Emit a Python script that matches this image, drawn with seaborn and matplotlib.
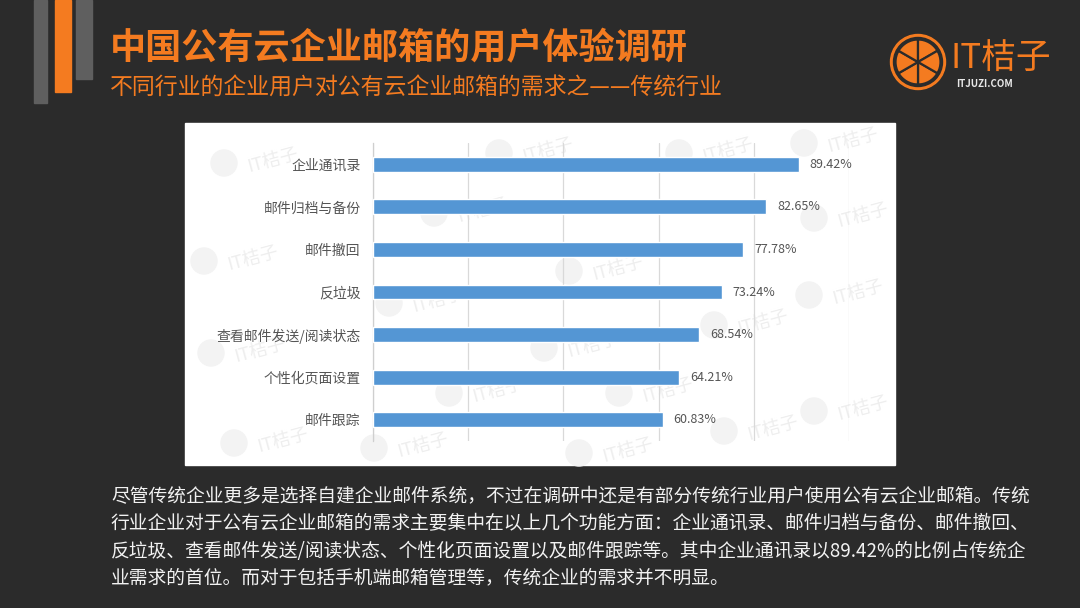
import matplotlib
matplotlib.use("Agg")
import matplotlib.pyplot as plt
import seaborn as sns
import pandas as pd
import numpy as np
from matplotlib.patches import Rectangle, Circle, Wedge

# ---- data ----
categories = ["企业通讯录", "邮件归档与备份", "邮件撤回", "反垃圾",
              "查看邮件发送/阅读状态", "个性化页面设置", "邮件跟踪"]
values = [89.42, 82.65, 77.78, 73.24, 68.54, 64.21, 60.83]
value_labels = ["89.42%", "82.65%", "77.78%", "73.24%", "68.54%", "64.21%", "60.83%"]

title = "中国公有云企业邮箱的用户体验调研"
subtitle = "不同行业的企业用户对公有云企业邮箱的需求之——传统行业"
paragraph = [
    "尽管传统企业更多是选择自建企业邮件系统，不过在调研中还是有部分传统行业用户使用公有云企业邮箱。传统",
    "行业企业对于公有云企业邮箱的需求主要集中在以上几个功能方面：企业通讯录、邮件归档与备份、邮件撤回、",
    "反垃圾、查看邮件发送/阅读状态、个性化页面设置以及邮件跟踪等。其中企业通讯录以89.42%的比例占传统企",
    "业需求的首位。而对于包括手机端邮箱管理等，传统企业的需求并不明显。",
]

sns.set_theme(style="white")
plt.rcParams['font.family'] = ['Noto Sans CJK SC', 'DejaVu Sans']

W, H = 1080, 608
BG = "#2b2b2b"
ORANGE = "#f47b20"
BAR = "#5496d4"

fig = plt.figure(figsize=(W / 100, H / 100), dpi=100)
fig.patch.set_facecolor(BG)

def fx(x):
    return x / W

def fy(y):
    return 1 - y / H

# background overlay axes in pixel coordinates (panel, decorations, logo, watermarks)
lax = fig.add_axes([0, 0, 1, 1], facecolor="none")
lax.set_xlim(0, W)
lax.set_ylim(H, 0)
lax.axis("off")
lax.set_zorder(-1)

# decorative bars top-left
for (x0, x1, y1, c) in [(34, 47, 103, "#5f5f5f"), (55, 71, 92, ORANGE), (76, 92, 79, "#5f5f5f")]:
    lax.add_patch(Rectangle((x0, 0), x1 - x0, y1, color=c, zorder=1))

# white chart panel
panel = Rectangle((185, 123), 895 - 185, 465 - 123, color="white", zorder=0)
lax.add_patch(panel)

# faint watermarks inside panel
wm = [(245, 160), (455, 210), (225, 258), (590, 268), (410, 300), (232, 350),
      (565, 345), (735, 322), (830, 292), (395, 445), (600, 450), (745, 428),
      (835, 408), (255, 440), (700, 150), (825, 140), (835, 215), (640, 390),
      (520, 150), (470, 390)]
for (wx, wy) in wm:
    lax.add_patch(Circle((wx - 21, wy + 3), 13, color="#f3f3f3", zorder=0.5))
    lax.text(wx, wy, "IT桔子", color="#eeeeee", fontsize=13, rotation=15,
             va="center", ha="left", zorder=0.5)

# logo
cx, cy = 918, 62
lax.add_patch(Circle((cx, cy), 27.5, color=ORANGE, zorder=2))
lax.add_patch(Circle((cx, cy), 24.5, color=BG, zorder=2))
for k in range(6):
    lax.add_patch(Wedge((cx, cy), 22.5, 60 * k + 30, 60 * (k + 1) + 30,
                        facecolor=ORANGE, edgecolor=BG, linewidth=1.6, zorder=2))
lax.text(950, 58, "IT桔子", color=ORANGE, fontsize=25, va="center", ha="left")
lax.text(956, 84, "ITJUZI.COM", color="#e8e8e8", fontsize=7, fontweight="bold",
         va="center", ha="left")

# titles
lax.text(110, 49, title, color=ORANGE, fontsize=26, fontweight="bold",
         va="center", ha="left")
lax.text(110, 88, subtitle, color=ORANGE, fontsize=16.5, va="center", ha="left")

# paragraph
for i, line in enumerate(paragraph):
    lax.text(111, 497 + 27 * i, line, color="#f2f2f2", fontsize=13.5,
             va="center", ha="left")

# main bar chart axes
ax = fig.add_axes([fx(373), fy(441), fx(849 - 373), (441 - 143) / H])
ax.set_zorder(1)
ax.set_facecolor("none")
df = pd.DataFrame({"cat": categories, "val": values})
sns.barplot(data=df, x="val", y="cat", orient="h", color=BAR, width=0.35,
            saturation=1, ax=ax, zorder=3)
ax.set_xlim(0, 100)
ax.set_ylim(len(categories) - 0.5, -0.5)
ax.set_xticks(np.arange(0, 101, 20))
ax.set_xticklabels([])
ax.tick_params(axis="x", length=0)
ax.set_axisbelow(True)
ax.grid(axis="x", color="#d9d9d9", linewidth=0.9)
ax.grid(axis="y", visible=False)
for s in ["top", "right", "bottom"]:
    ax.spines[s].set_visible(False)
ax.spines["left"].set_color("#cfcfcf")
ax.spines["left"].set_linewidth(0.9)
ax.set_yticks(np.arange(-0.5, len(categories), 1), minor=True)
ax.tick_params(axis="y", which="minor", length=4, color="#cfcfcf", width=0.9)
ax.tick_params(axis="y", which="major", length=0, pad=9, labelsize=10,
               labelcolor="#555555")
ax.set_xlabel("")
ax.set_ylabel("")
for i, (v, lab) in enumerate(zip(values, value_labels)):
    ax.annotate(lab, (v, i), xytext=(8, 0), textcoords="offset points",
                va="center", ha="left", fontsize=9, color="#555555")

fig.savefig("out.png", dpi=100, facecolor=BG)
